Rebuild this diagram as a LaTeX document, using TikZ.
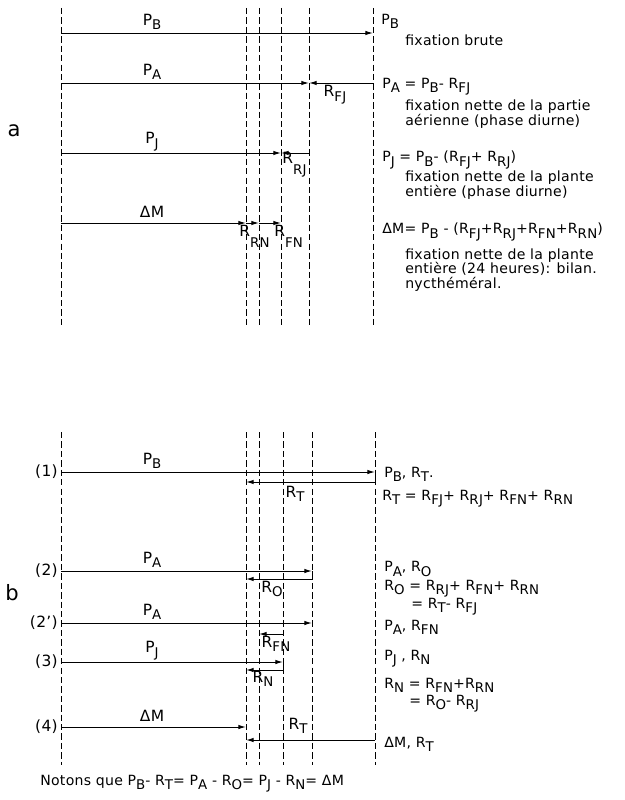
\documentclass[tikz,border=0pt]{standalone}
\usepackage{fontspec}
\setmainfont{DejaVu Sans}[LetterSpace=2]
\usetikzlibrary{arrows.meta}
\newcommand{\ind}[1]{\raisebox{-0.55ex}{\fontsize{9.5}{9.5}\selectfont #1}}
\newcommand{\bas}[1]{\raisebox{-1.3ex}{\fontsize{9.5}{9.5}\selectfont #1}}

\begin{document}
\begin{tikzpicture}[x=0.025cm, y=-0.025cm,
		guide/.style={line width=0.7pt, dash pattern=on 4.5pt off 2.2pt},
		fleche/.style={line width=0.7pt, -{Latex[length=5.5pt,width=3.2pt]}},
		trait/.style={line width=0.7pt},
		etiq/.style={font=\fontsize{11}{11}\selectfont, inner sep=0pt},
		texte/.style={font=\fontsize{10}{10.2}\selectfont, inner sep=0pt, anchor=west, align=left},
		lettre/.style={font=\fontsize{15}{15}\selectfont, inner sep=0pt},
		]
		\useasboundingbox (0,0) rectangle (624,800);
		\def\xo{61}
		
		%% ── a : bilan en deux phases ──────────────────────────
		\begin{scope}
			\def\xm{246}\def\xn{259}\def\xj{281}\def\xa{309}\def\xb{373}
			\foreach \x in {\xo,\xm,\xn,\xj,\xa,\xb} \draw[guide](\x,8)--(\x,325);
			\draw[fleche](\xo,33)--(\xb,33);
			\draw[fleche](\xo,83)--(\xa,83);
			\draw[fleche](\xb,83)--(\xa,83);
			\draw[fleche](\xo,153)--(\xj,153);
			\draw[fleche](\xa,153)--(\xj,153);
			\draw[fleche](\xo,223)--(\xm,223);
			\draw[fleche](\xm,223)--(\xn,223);
			\draw[fleche](\xn,223)--(\xj,223);
			\node[lettre](la)at(14,131){a};
			\node[etiq](aPB)at(152,22){P\ind{B}};
			\node[etiq](aPA)at(152,72){P\ind{A}};
			\node[etiq](aPJ)at(152,142){P\ind{J}};
			\node[etiq](aDM)at(152,212){ΔM};
			\node[etiq](aRFJ)at(335,95){R\ind{FJ}};
			\node[etiq,anchor=west](aRRJ)at(282,165){R\bas{RJ}};
			\node[etiq,anchor=west](aRRN)at(239,236){R\bas{RN}};
			\node[etiq,anchor=west](aRFN)at(274,236){R\bas{FN}};
			\node[texte](tPB)at(381,21){P\ind{B}};
			\node[texte](tPBd)at(405,40){fixation brute};
			\node[texte](tPA)at(382,87){P\ind{A} = P\ind{B}- R\ind{FJ}};
			\node[texte](tPAd)at(405,114){fixation nette de la partie\\aérienne (phase diurne)};
			\node[texte](tPJ)at(382,160){P\ind{J} = P\ind{B}- (R\ind{FJ}+ R\ind{RJ})};
			\node[texte](tPJd)at(405,185){fixation nette de la plante\\entière (phase diurne)};
			\node[texte](tDM)at(382,232){ΔM= P\ind{B} - (R\ind{FJ}+R\ind{RJ}+R\ind{FN}+R\ind{RN})};
			\node[texte](tDMd)at(405,270){fixation nette de la plante\\entière (24 heures): bilan.\\nycthéméral.};
		\end{scope}
		
		%% ── b : pertes respiratoires ──────────────────────────
		\begin{scope}
			\def\xm{246}\def\xn{259}\def\xj{283}\def\xa{312}\def\xb{375}
			\foreach \x in {\xo,\xm,\xn,\xj,\xa,\xb} \draw[guide](\x,432)--(\x,765);
			% (1)
			\draw[fleche](\xo,472)--(\xb,472);
			\draw[trait](\xb,472)--(\xb,482);
			\draw[fleche](\xb,482)--(\xm,482);
			% (2)
			\draw[fleche](\xo,571)--(\xa,571);
			\draw[trait](\xa,571)--(\xa,579);
			\draw[fleche](\xa,579)--(\xm,579);
			% (2')
			\draw[fleche](\xo,623)--(\xa,623);
			\draw[fleche](\xj,634)--(\xn,634);
			% (3)
			\draw[fleche](\xo,662)--(\xj,662);
			\draw[trait](\xj,662)--(\xj,670);
			\draw[fleche](\xj,670)--(\xm,670);
			% (4)
			\draw[fleche](\xo,727)--(\xm,727);
			\draw[fleche](\xb,740)--(\xm,740);
			\node[lettre](lb)at(12,593){b};
			\node[etiq,anchor=east](n1)at(58,472){(1)};
			\node[etiq,anchor=east](n2)at(58,571){(2)};
			\node[etiq,anchor=east](n2p)at(58,623){(2')};
			\node[etiq,anchor=east](n3)at(58,662){(3)};
			\node[etiq,anchor=east](n4)at(58,727){(4)};
			\node[etiq](bPB)at(152,461){P\ind{B}};
			\node[etiq](bPA)at(152,560){P\ind{A}};
			\node[etiq](bPAp)at(152,612){P\ind{A}};
			\node[etiq](bPJ)at(152,651){P\ind{J}};
			\node[etiq](bDM)at(152,716){ΔM};
			\node[etiq](bRT)at(295,494){R\ind{T}};
			\node[etiq](bRO)at(272,589){R\ind{O}};
			\node[etiq](bRFN)at(276,644){R\ind{FN}};
			\node[etiq](bRN)at(263,679){R\ind{N}};
			\node[etiq](bRTd)at(298,726){R\ind{T}};
			\node[texte](sPB)at(384,474){P\ind{B}, R\ind{T}.};
			\node[texte](sRT)at(382,499){R\ind{T} = R\ind{FJ}+ R\ind{RJ}+ R\ind{FN}+ R\ind{RN}};
			\node[texte](sPA)at(384,569){P\ind{A}, R\ind{O}};
			\node[texte](sRO)at(384,589){R\ind{O} = R\ind{RJ}+ R\ind{FN}+ R\ind{RN}};
			\node[texte](sROb)at(411,607){= R\ind{T}- R\ind{FJ}};
			\node[texte](sPAp)at(384,627){P\ind{A}, R\ind{FN}};
			\node[texte](sPJ)at(384,659){P\ind{J} , R\ind{N}};
			\node[texte](sRN)at(384,685){R\ind{N} = R\ind{FN}+R\ind{RN}};
			\node[texte](sRNb)at(409,704){= R\ind{O}- R\ind{RJ}};
			\node[texte](sDM)at(384,744){ΔM, R\ind{T}};
			\node[texte](note)at(40,784){Notons que P\ind{B}- R\ind{T}= P\ind{A} - R\ind{O}= P\ind{J} - R\ind{N}= ΔM};
		\end{scope}
		
\end{tikzpicture}
\end{document}
